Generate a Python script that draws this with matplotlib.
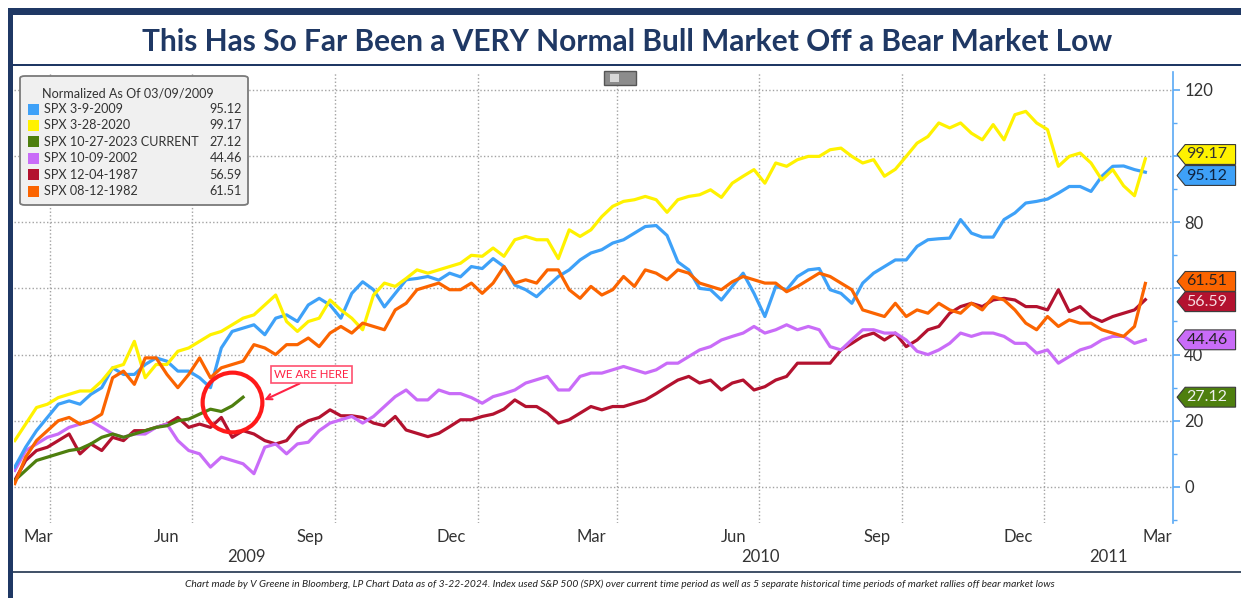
import numpy as np
import pandas as pd
import matplotlib
matplotlib.use("Agg")
import matplotlib.pyplot as plt
import matplotlib.dates as mdates
from matplotlib.patches import Rectangle, Polygon, FancyBboxPatch
from matplotlib.transforms import blended_transform_factory

plt.rcParams["font.family"] = ["Lato", "DejaVu Sans"]

W, H = 1241, 598
NAVY = "#1f3864"

# --- DATA (weekly readings, all rallies normalized to 03/09/2009) ---
start = "2009-03-09"

spx_2009 = [6, 12, 17, 21, 25, 26, 25, 28, 30, 36,
            34, 34, 37, 39, 38, 35, 35, 33, 30, 42,
            47, 48, 49, 46, 51, 52, 50, 55, 57, 55,
            51, 58.5, 62, 59.6, 54.4, 58.5, 62.6, 63, 63.6, 62.5,
            64.6, 63.5, 66.6, 66, 69, 66.6, 61, 59.6, 57.5, 60.6,
            63.6, 65.6, 68.6, 70.7, 71.7, 73.7, 74.7, 76.7, 78.7, 79,
            76, 68, 65.6, 60, 59.6, 56.5, 60.6, 64.6, 58.5, 51.5,
            60.6, 59.6, 63.6, 65.6, 66, 59.6, 58.5, 55.5, 61.6, 64.6,
            66.6, 68.6, 68.6, 72.7, 74.7, 75, 75.2, 80.8, 76.7, 75.5,
            75.5, 80.8, 82.8, 85.8, 86.3, 87, 88.8, 90.8, 90.8, 89.3,
            93.9, 96.9, 97, 95.9, 95.12]

spx_2020 = [14, 19, 24, 25, 27, 28, 29, 29, 32, 36,
            37, 44, 33, 37, 37, 41, 42, 44, 46, 47,
            49, 51, 52, 55, 58, 50, 47, 50, 51, 56.5,
            53.5, 51, 47.5, 58, 61.6, 60.6, 63, 65.6, 64.6, 65.6,
            66.6, 67.6, 70, 69.7, 72.2, 69.7, 74.7, 75.7, 74.7, 74.7,
            69, 77.7, 75.7, 77.7, 81.7, 84.8, 86.3, 86.8, 87.8, 86.8,
            83, 86.8, 87.8, 88.3, 89.8, 87.5, 91.8, 93.9, 95.9, 91.8,
            97.9, 96.9, 98.9, 99.9, 99.9, 101.9, 102.4, 99.9, 97.9, 98.9,
            93.9, 96, 99.9, 103.9, 105.9, 110, 108.5, 110, 106.9, 104.9,
            109.5, 104.9, 112.5, 113.5, 110, 108, 96.9, 99.9, 100.9, 97.9,
            92.8, 95.9, 91, 88, 99.17]

spx_2023 = [2, 5, 8, 9, 10, 11, 11.5, 13, 15, 16,
            15, 16, 17, 18, 18.5, 20, 20.5, 22, 23.5, 22.8,
            24.5, 27.12]

spx_2002 = [5, 11, 13, 15, 16, 18, 19, 20, 18, 16,
            15, 16, 16, 18, 19, 14, 11, 10, 6, 9,
            8, 7, 4, 12, 13, 10, 13, 13.5, 17, 19.3,
            20.3, 21.3, 19.3, 21.3, 24.3, 27.3, 29.3, 26.3, 26.3, 29.3,
            28.2, 28.2, 27, 25.3, 27.3, 28.2, 29.3, 31.4, 32.4, 33.4,
            29.3, 29.3, 33.4, 34.4, 34.4, 35.4, 36.4, 35.4, 34.4, 35.4,
            37.4, 37.4, 39.4, 41.4, 42.4, 44.4, 45.5, 46.5, 48.5, 46.5,
            47.5, 49, 47.5, 48.5, 47.5, 42.4, 41.4, 44.5, 47.5, 47.5,
            46.5, 46.5, 44.4, 41, 40, 41.4, 43.4, 46.5, 45.5, 46.5,
            46.5, 45.5, 43.4, 43.4, 40.4, 41.4, 37.4, 39.4, 41.4, 42.4,
            44.4, 45.5, 45.5, 43.4, 44.46]

spx_1987 = [2, 8, 11, 12, 14, 16, 10, 13, 11, 15,
            14, 17, 17, 18, 19, 21, 18, 19, 18, 21,
            15, 17, 16, 14, 13, 14, 18, 20, 21, 23.3,
            21.5, 21.5, 21, 19.3, 18.5, 21.3, 17.2, 16.2, 15.2, 16.2,
            18.2, 20.3, 20.3, 21.3, 22, 23.5, 26.3, 24.3, 24.3, 22.3,
            19.3, 20.3, 22.3, 24.3, 23.3, 24.3, 24.3, 25.3, 26.3, 28.2,
            30.3, 32.3, 33.4, 31.4, 32.3, 29.3, 31.4, 32.3, 29.3, 30.3,
            32.3, 33.4, 37.4, 37.4, 37.4, 37.4, 41.4, 43.4, 45.5, 46.5,
            44.4, 46.5, 42.4, 44.4, 47.5, 48.5, 52.5, 54.5, 55.5, 54.5,
            56.5, 57, 56.5, 54.5, 54.5, 53.5, 59.6, 53, 54.5, 51.5,
            50, 51.5, 52.5, 53.5, 56.59]

spx_1982 = [1, 9, 14, 17, 20, 21, 19, 20, 22, 33,
            35, 31, 39, 39, 34, 30, 34, 39, 33, 36,
            37, 38, 43, 42, 40, 43, 43, 45, 42.4, 46.5,
            48.5, 46.5, 49.5, 48.5, 47.5, 53.5, 55.5, 59.6, 60.6, 61.6,
            59.6, 59.6, 61.6, 58.5, 61.6, 66.6, 61.6, 62.6, 61.6, 65.6,
            65.6, 59.6, 57, 60.6, 58, 59.6, 63.6, 60.6, 65.6, 64.6,
            62.6, 65.6, 64.6, 61.6, 60.6, 59.6, 62, 63.6, 62.6, 61.6,
            61.6, 59, 60.6, 62.6, 64.6, 63.6, 61.6, 59.6, 53.5, 52.5,
            51.5, 55.5, 51.5, 53.5, 52.5, 55.5, 53.5, 52.5, 55.5, 53.5,
            57.5, 56.5, 53.5, 49.5, 47.5, 51.5, 48.5, 50.5, 49.5, 49.5,
            47.5, 46.5, 45.5, 48.5, 61.51]

names = ["SPX 3-9-2009", "SPX 3-28-2020", "SPX 10-27-2023 CURRENT",
         "SPX 10-09-2002", "SPX 12-04-1987", "SPX 08-12-1982"]
series = [spx_2009, spx_2020, spx_2023, spx_2002, spx_1987, spx_1982]
colors = ["#3ea1f8", "#fff200", "#4e7f0e", "#c96cf8", "#b3122f", "#fb6400"]
tag_text = ["#10243f", "#333333", "#f0f0f0", "#222222", "#f6dbe0", "#222222"]
# small nudges so crowded tags stay readable
tag_nudge = [-1.0, 1.3, 0, 0, -0.6, 0.6]

grid_dates = ["2009-04-01", "2009-07-01", "2009-10-01", "2010-01-01",
              "2010-04-01", "2010-07-01", "2010-10-01", "2011-01-01"]
month_labels = ["Mar", "Jun", "Sep", "Dec", "Mar", "Jun", "Sep", "Dec", "Mar"]
month_dates = ["2009-03-24", "2009-06-15", "2009-09-15", "2009-12-15",
               "2010-03-15", "2010-06-15", "2010-09-15", "2010-12-15",
               "2011-03-15"]
year_labels = ["2009", "2010", "2011"]
year_dates = ["2009-08-05", "2010-07-02", "2011-02-11"]
y_ticks = [0, 20, 40, 60, 80, 100, 120]
y_ticklabels = ["0", "20", "40", "", "80", "", "120"]  # 60 and 100 sit under the tags

# --- FIGURE ---
fig = plt.figure(figsize=(W / 100, H / 100), dpi=100)
ax = fig.add_axes([14 / W, 1 - 523 / H, (1173 - 14) / W, (523 - 72) / H])

x0 = mdates.date2num(pd.Timestamp(start)) - 0.5
ax.set_xlim(x0, x0 + 746.3)
ax.set_ylim(-10.9, 125.4)

# grid
for d in grid_dates:
    ax.axvline(pd.Timestamp(d), color="#a3a3a3", lw=1.0, ls=(0, (1, 1.6)), zorder=0)
for v in y_ticks:
    ax.axhline(v, color="#a3a3a3", lw=1.0, ls=(0, (1, 1.6)), zorder=0)

# lines
order = [4, 3, 2, 0, 1, 5]
for i in order:
    vals = series[i]
    dates = pd.date_range(start, periods=len(vals), freq="7D")
    ax.plot(dates, vals, color=colors[i], lw=2.3, solid_joinstyle="round", zorder=3)

# axes styling
for s in ["left", "top", "bottom"]:
    ax.spines[s].set_visible(False)
ax.spines["right"].set_color("#5aa9f5")
ax.spines["right"].set_linewidth(1.2)
ax.yaxis.tick_right()
ax.set_yticks(y_ticks)
ax.set_yticklabels(y_ticklabels)
ax.set_yticks(range(-10, 121, 10), minor=True)
ax.tick_params(axis="y", which="major", length=5, width=1.2, color="#5aa9f5",
               labelsize=12, labelcolor="#333333", pad=3)
ax.tick_params(axis="y", which="minor", length=3, width=1, color="#5aa9f5")
ax.set_xticks([])

tr = blended_transform_factory(ax.transData, ax.transAxes)
for lab, d in zip(month_labels, month_dates):
    ax.text(pd.Timestamp(d), -0.031, lab, transform=tr, ha="center", va="center",
            fontsize=12, color="#333333")
for lab, d in zip(year_labels, year_dates):
    ax.text(pd.Timestamp(d), -0.076, lab, transform=tr, ha="center", va="center",
            fontsize=12, color="#333333")

# value tags on the right axis
trt = blended_transform_factory(ax.transAxes, ax.transData)
for i in [1, 0, 2, 3, 5, 4]:
    v = series[i][-1]
    c = v + tag_nudge[i]
    h = 3.0
    pts = [(1.0035, c), (1.0105, c + h), (1.054, c + h), (1.054, c - h), (1.0105, c - h)]
    ax.add_patch(Polygon(pts, closed=True, transform=trt, facecolor=colors[i],
                         edgecolor="#3a3a3a", lw=0.8, clip_on=False, zorder=10))
    ax.text(1.0115, c, f"{v:.2f}", transform=trt, ha="left", va="center",
            fontsize=11.5, color=tag_text[i], clip_on=False, zorder=11)

# "WE ARE HERE" callout
ax.plot(pd.Timestamp("2009-07-27"), 25.7, marker="o", ms=43, mfc="none",
        mec="#ff1a1a", mew=3, zorder=6)
ax.annotate("", xy=(pd.Timestamp("2009-08-15"), 25.9),
            xytext=(pd.Timestamp("2009-09-10"), 31.6),
            arrowprops=dict(arrowstyle="->", color="#ff2244", lw=1.5), zorder=6)
ax.text(pd.Timestamp("2009-09-16"), 33.9, "WE ARE HERE", ha="center", va="center",
        fontsize=8.3, color="#ff2244", zorder=7,
        bbox=dict(boxstyle="square,pad=0.25", fc="white", ec="#ff5070", lw=1.2))

# legend box
def fx(px):
    return px / W


def fy(py):
    return 1 - py / H


fig.add_artist(FancyBboxPatch((fx(20), fy(205)), fx(248) - fx(20), fy(76) - fy(205),
                              boxstyle="round,pad=0,rounding_size=0.004",
                              transform=fig.transFigure, fc="#f0f0f0", ec="#7a7a7a",
                              lw=1.3, zorder=20))
fig.text(fx(42), fy(93), "Normalized As Of 03/09/2009", fontsize=9.1, color="#333333",
         va="center", zorder=21)
for j, (nm, c) in enumerate(zip(names, colors)):
    yy = 109 + j * 16.4
    fig.add_artist(Rectangle((fx(28), fy(yy + 5.5)), fx(11), fy(0) - fy(11),
                             transform=fig.transFigure, fc=c, ec="none", zorder=21))
    fig.text(fx(44), fy(yy), nm, fontsize=9.1, color="#333333", va="center", zorder=21)
    fig.text(fx(242), fy(yy), f"{series[j][-1]:.2f}", fontsize=9.1, color="#333333",
             va="center", ha="right", zorder=21)

# small toolbar icon
fig.add_artist(Rectangle((fx(604), fy(85)), fx(32), fy(0) - fy(14),
                         transform=fig.transFigure, fc="#8c8c8c", ec="#555555", lw=1))
fig.add_artist(Rectangle((fx(610), fy(82)), fx(9), fy(0) - fy(8),
                         transform=fig.transFigure, fc="#d8d8d8", ec="none"))

# frame and title
fig.add_artist(Rectangle((fx(8), fy(15)), 1, fy(0) - fy(7), transform=fig.transFigure,
                         fc=NAVY, ec="none"))
fig.add_artist(Rectangle((fx(8), 0), fx(5), fy(8), transform=fig.transFigure,
                         fc=NAVY, ec="none"))
fig.add_artist(Rectangle((fx(13), fy(66)), 1, fy(0) - fy(2), transform=fig.transFigure,
                         fc=NAVY, ec="none"))
fig.add_artist(Rectangle((fx(13), fy(573)), 1, fy(0) - fy(2), transform=fig.transFigure,
                         fc="#44546a", ec="none"))
fig.text(fx(627), fy(42), "This Has So Far Been a VERY Normal Bull Market Off a Bear Market Low",
         ha="center", va="center", fontsize=21.5, fontweight="bold", color=NAVY)
fig.text(fx(620), fy(584),
         "Chart made by V Greene in Bloomberg, LP Chart Data as of 3-22-2024. Index used S&P 500 (SPX) "
         "over current time period as well as 5 separate historical time periods of market rallies off bear market lows",
         ha="center", va="center", fontsize=7.4, style="italic", color="#222222")

fig.savefig("out.png", dpi=100)
